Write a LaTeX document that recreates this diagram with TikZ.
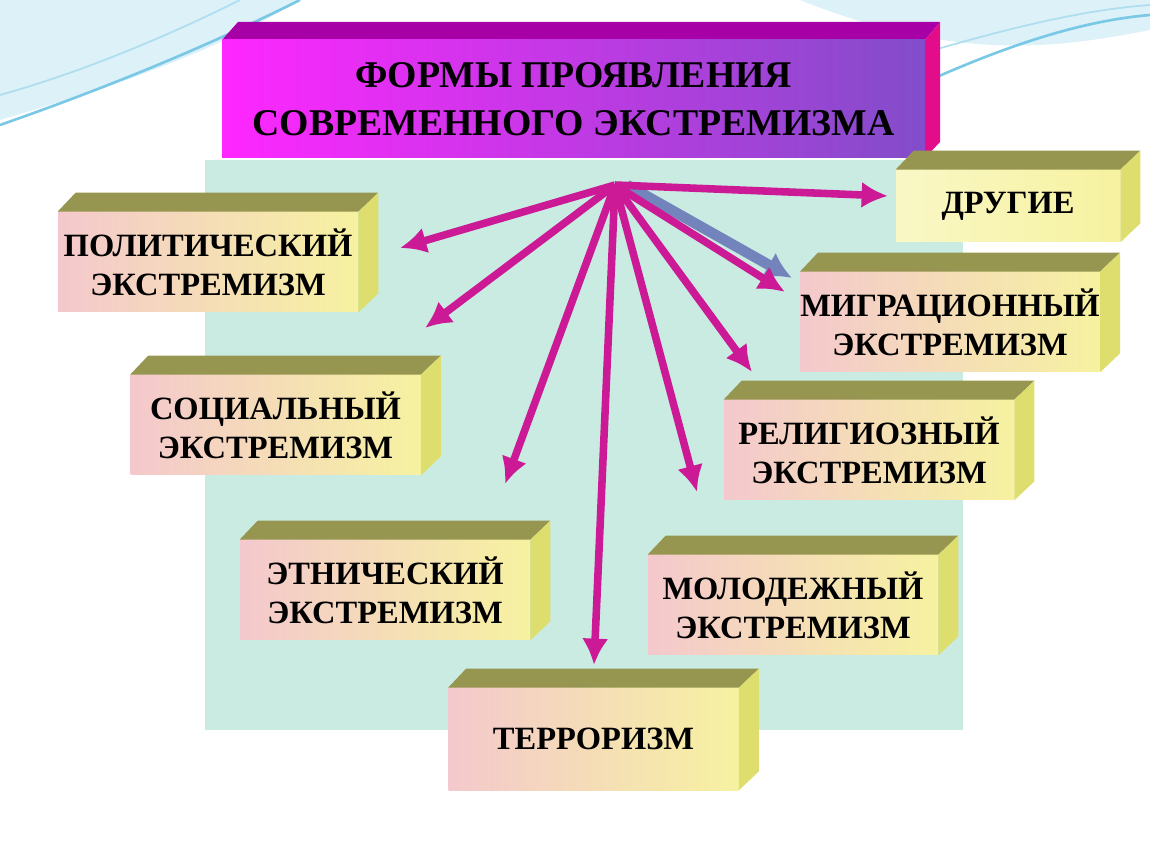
\documentclass[tikz,border=0pt]{standalone}
\usepackage{fontspec}
\setmainfont{Liberation Serif}
\usetikzlibrary{arrows.meta, calc, positioning}
\definecolor{panelc}{RGB}{178, 226, 214}
\definecolor{topc}{RGB}{150, 150, 80}
\definecolor{sidec}{RGB}{222, 222, 110}
\definecolor{frontl}{RGB}{244, 200, 205}
\definecolor{frontr}{RGB}{246, 242, 160}
\definecolor{arrowc}{RGB}{204, 26, 150}
\definecolor{shadowc}{RGB}{80, 100, 170}
\definecolor{wavec}{RGB}{120, 200, 230}
\tikzset{
  formbox/.style={minimum width=290*0.02cm, minimum height=100*0.02cm, inner sep=0pt,
    left color=frontl, right color=frontr, align=center,
    font=\fontsize{18.5}{22}\selectfont\bfseries},
  toarrow/.style={arrowc, line width=4.3pt, -{Latex[length=15pt,width=15pt]}},
}
\newcommand{\prism}[1]{
  \fill[topc] (#1.north west) -- ++(18,-19) -- ($(#1.north east)+(20,-19)$) -- (#1.north east) -- cycle;
  \fill[sidec] (#1.north east) -- ++(20,-19) -- ($(#1.south east)+(20,-19)$) -- (#1.south east) -- cycle;
}
\begin{document}
\begin{tikzpicture}[x=0.02cm, y=-0.02cm]
  \useasboundingbox (0,0) rectangle (1150,864);
  % waves
  \fill[wavec!25] (0,0) -- (300,0) .. controls (200,60) and (100,90) .. (0,120) -- cycle;
  \draw[wavec, line width=1.5pt] (0,125) .. controls (100,90) and (200,50) .. (300,0);
  \draw[wavec!60, line width=1pt] (0,95) .. controls (90,70) and (180,30) .. (240,0);
  \fill[wavec!25] (1150,0) -- (800,0) .. controls (950,60) and (1050,50) .. (1150,30) -- cycle;
  \draw[wavec, line width=1.5pt] (930,80) .. controls (1020,40) and (1090,20) .. (1150,15);
  \draw[wavec!60, line width=1pt] (900,60) .. controls (1000,30) and (1080,10) .. (1150,5);
  % panel
  \fill[panelc!70] (205,160) rectangle (963,730);
  % title
  \fill[violet!70!magenta] (222,40) -- (238,22) -- (940,22) -- (925,40) -- cycle;
  \fill[magenta!90!violet] (925,40) -- (940,22) -- (940,142) -- (925,158) -- cycle;
  \node[minimum width=703*0.02cm, minimum height=118*0.02cm, left color=magenta!85!white,
    right color=violet!60!blue!70!white, align=center,
    font=\fontsize{21.5}{27}\selectfont\bfseries] (title) at (573.5,99)
    {ФОРМЫ ПРОЯВЛЕНИЯ\\СОВРЕМЕННОГО ЭКСТРЕМИЗМА};
  % boxes
  \node[formbox, minimum width=300*0.02cm] (polit) at (208,262) {ПОЛИТИЧЕСКИЙ\\ЭКСТРЕМИЗМ};
  \node[formbox] (social) at (275.5,425) {СОЦИАЛЬНЫЙ\\ЭКСТРЕМИЗМ};
  \node[formbox] (ethnic) at (385,590) {ЭТНИЧЕСКИЙ\\ЭКСТРЕМИЗМ};
  \node[formbox, minimum height=102*0.02cm] (terror) at (593.5,739) {ТЕРРОРИЗМ};
  \node[formbox] (youth) at (793,605) {МОЛОДЕЖНЫЙ\\ЭКСТРЕМИЗМ};
  \node[formbox] (relig) at (869,450) {РЕЛИГИОЗНЫЙ\\ЭКСТРЕМИЗМ};
  \node[formbox] (migr) at (950,322) {МИГРАЦИОННЫЙ\\ЭКСТРЕМИЗМ};
  \node[formbox, minimum width=224*0.02cm, minimum height=72*0.02cm, left color=frontr!60!white, right color=frontr] (other) at (1008,206) {ДРУГИЕ};
  \foreach \b in {polit,social,ethnic,terror,youth,relig,migr,other} {\prism{\b}}
  % arrows
  \coordinate (hub) at (615,185);
  \coordinate (tpolit) at (400,248);
  \coordinate (tsocial) at (425,328);
  \coordinate (tethnic) at (505,484);
  \coordinate (tterror) at (594,665);
  \coordinate (tyouth) at (697,492);
  \coordinate (trelig) at (752,372);
  \coordinate (tother) at (888,196);
  \draw[shadowc!80, line width=6pt, -{Latex[length=15pt,width=16pt]}] ($(hub)+(12,0)$) -- (792,278);
  \foreach \t in {tpolit,tsocial,tethnic,tterror,tyouth,trelig,tother} {\draw[toarrow] (hub) -- (\t);}
  \coordinate (tmigr) at (785,292);
  \draw[toarrow] (hub) -- (tmigr);
\end{tikzpicture}
\end{document}
